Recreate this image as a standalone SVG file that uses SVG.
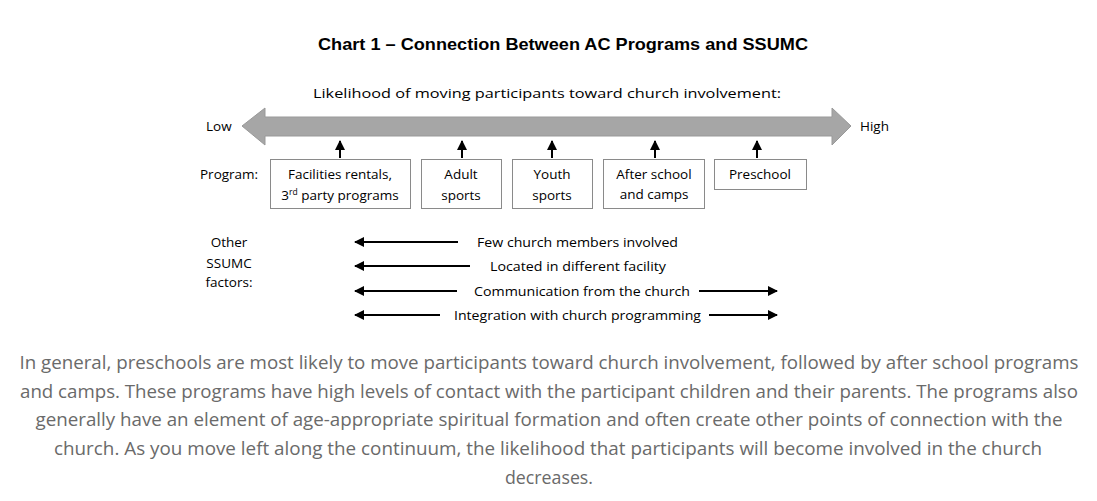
<svg xmlns="http://www.w3.org/2000/svg" width="1097" height="501" viewBox="0 0 1097 501">
<defs>
<style>
.t{font-family:"Open Sans","Liberation Sans",sans-serif;font-size:13.5px;fill:#000}
.c{text-anchor:middle}
.box{fill:#fff;stroke:#8a8a8a;stroke-width:1}
.ln{stroke:#000;stroke-width:2;fill:none}
.p{font-family:"Open Sans","Liberation Sans",sans-serif;font-size:18px;fill:#6a6a6a;text-anchor:middle}
</style>
<marker id="ah" viewBox="0 0 10 10" refX="9" refY="5" markerWidth="5" markerHeight="5" orient="auto-start-reverse" markerUnits="strokeWidth">
<path d="M0,0 L10,5 L0,10 z" fill="#000"/>
</marker>
</defs>
<rect width="1097" height="501" fill="#fff"/>
<text x="563" y="50" font-family="'Liberation Sans',Arial,sans-serif" font-size="17" font-weight="bold" text-anchor="middle" textLength="490" lengthAdjust="spacingAndGlyphs">Chart 1 – Connection Between AC Programs and SSUMC</text>
<text class="t c" x="547" y="98" font-size="15" textLength="468" lengthAdjust="spacingAndGlyphs">Likelihood of moving participants toward church involvement:</text>
<g id="scale">
<polygon points="242,126 265,108 265,117 832,117 832,108 851,126 832,145 832,136 265,136 265,145" fill="#a6a6a6" stroke="#999" stroke-width="1"/>
<text class="t" x="206" y="131">Low</text>
<text class="t" x="860" y="131">High</text>
</g>
<g id="connectors">
<line class="ln" x1="340" y1="158" x2="340" y2="141" marker-end="url(#ah)"/>
<line class="ln" x1="462" y1="158" x2="462" y2="141" marker-end="url(#ah)"/>
<line class="ln" x1="552" y1="158" x2="552" y2="141" marker-end="url(#ah)"/>
<line class="ln" x1="655" y1="158" x2="655" y2="141" marker-end="url(#ah)"/>
<line class="ln" x1="757" y1="158" x2="757" y2="141" marker-end="url(#ah)"/>
<line class="ln" x1="458" y1="242" x2="355" y2="242" marker-end="url(#ah)"/>
<line class="ln" x1="470" y1="266" x2="355" y2="266" marker-end="url(#ah)"/>
<line class="ln" x1="457" y1="291" x2="355" y2="291" marker-end="url(#ah)"/>
<line class="ln" x1="699" y1="291" x2="777" y2="291" marker-end="url(#ah)"/>
<line class="ln" x1="440" y1="315" x2="355" y2="315" marker-end="url(#ah)"/>
<line class="ln" x1="709" y1="315" x2="777" y2="315" marker-end="url(#ah)"/>
</g>
<text class="t" x="200" y="179">Program:</text>
<g id="n1"><rect class="box" x="270.5" y="159.5" width="140" height="49"/>
<text class="t c" x="340" y="179">Facilities rentals,</text>
<text class="t c" x="340" y="200">3<tspan font-size="8.5" dy="-5">rd</tspan><tspan dy="5"> party programs</tspan></text></g>
<g id="n2"><rect class="box" x="421.5" y="159.5" width="80" height="49"/>
<text class="t c" x="461" y="179">Adult</text><text class="t c" x="461" y="200">sports</text></g>
<g id="n3"><rect class="box" x="512.5" y="159.5" width="80" height="49"/>
<text class="t c" x="552" y="179">Youth</text><text class="t c" x="552" y="200">sports</text></g>
<g id="n4"><rect class="box" x="603.5" y="159.5" width="101" height="49"/>
<text class="t c" x="654" y="179">After school</text><text class="t c" x="654" y="199">and camps</text></g>
<g id="n5"><rect class="box" x="714.5" y="159.5" width="92" height="30"/>
<text class="t c" x="760" y="179">Preschool</text></g>
<g id="factors">
<text class="t c" x="229" y="247">Other</text>
<text class="t c" x="229" y="268">SSUMC</text>
<text class="t c" x="229" y="287">factors:</text>
<text class="t" x="477" y="247" textLength="201" lengthAdjust="spacingAndGlyphs">Few church members involved</text>
<text class="t" x="490" y="271" textLength="176" lengthAdjust="spacingAndGlyphs">Located in different facility</text>
<text class="t" x="474" y="296" textLength="216" lengthAdjust="spacingAndGlyphs">Communication from the church</text>
<text class="t" x="454" y="320" textLength="247" lengthAdjust="spacingAndGlyphs">Integration with church programming</text>
</g>
<g id="paragraph">
<text class="p" x="549" y="369" textLength="1059" lengthAdjust="spacingAndGlyphs">In general, preschools are most likely to move participants toward church involvement, followed by after school programs</text>
<text class="p" x="549" y="398" textLength="1058" lengthAdjust="spacingAndGlyphs">and camps. These programs have high levels of contact with the participant children and their parents. The programs also</text>
<text class="p" x="549" y="426" textLength="1027" lengthAdjust="spacingAndGlyphs">generally have an element of age-appropriate spiritual formation and often create other points of connection with the</text>
<text class="p" x="548" y="455" textLength="988" lengthAdjust="spacingAndGlyphs">church. As you move left along the continuum, the likelihood that participants will become involved in the church</text>
<text class="p" x="549" y="484" textLength="88" lengthAdjust="spacingAndGlyphs">decreases.</text>
</g>
</svg>
